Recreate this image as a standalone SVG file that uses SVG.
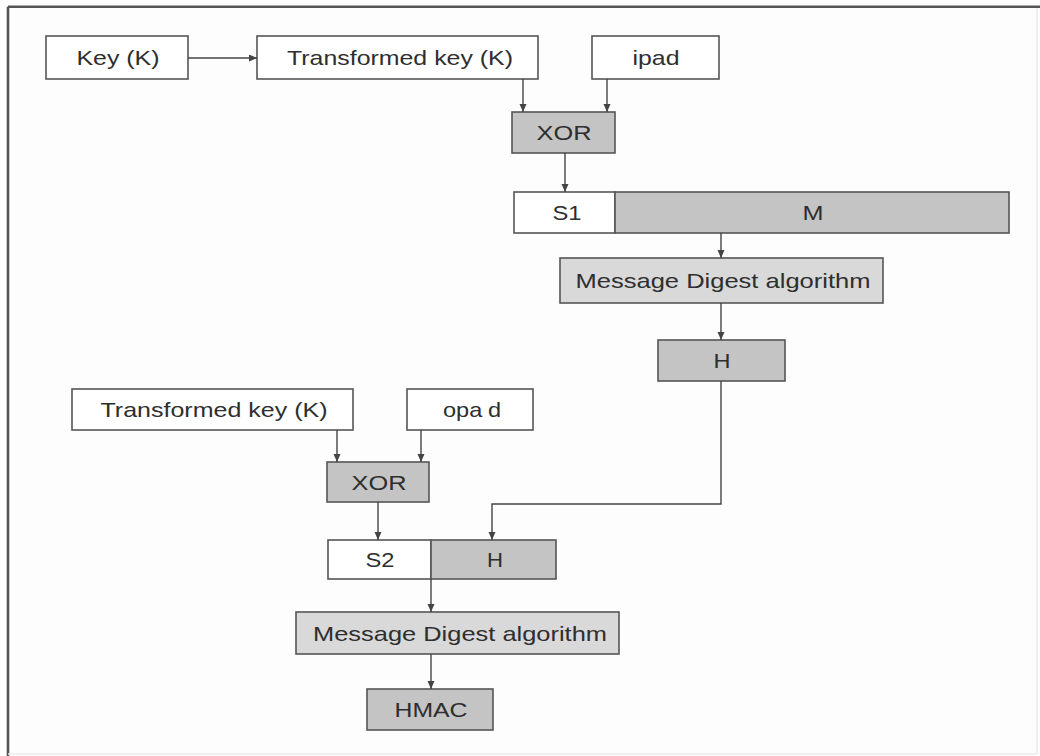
<svg xmlns="http://www.w3.org/2000/svg" width="1040" height="756" viewBox="0 0 1040 756">
  <style>
    .box { stroke: #555; stroke-width: 1.6; }
    .white { fill: #ffffff; }
    .dark { fill: #c4c4c4; }
    .light { fill: #d9d9d9; }
    .lbl { font-family: "Liberation Sans", Arial, sans-serif; font-size: 21px; fill: #2e2e2e; text-anchor: middle; }
    .wire { fill: none; stroke: #444; stroke-width: 1.4; }
  </style>
  <defs>
    <marker id="arrow" markerUnits="userSpaceOnUse" markerWidth="8" markerHeight="8" refX="8" refY="3.5" orient="auto">
      <path d="M0,0 L8,3.5 L0,7 z" fill="#444"/>
    </marker>
  </defs>

  <!-- page -->
  <rect x="0" y="0" width="1040" height="756" fill="#fdfdfd"/>
  <g id="frame">
    <line x1="8" y1="6.7" x2="1040" y2="6.7" stroke="#555" stroke-width="2.6"/>
    <line x1="8" y1="6.7" x2="8" y2="756" stroke="#555" stroke-width="2.6"/>
    <line x1="1037" y1="8" x2="1037" y2="754" stroke="#ebebeb" stroke-width="1.5"/>
    <line x1="8" y1="754" x2="1037" y2="754" stroke="#ebebeb" stroke-width="1.5"/>
  </g>

  <!-- inner hash -->
  <g id="key">
    <rect class="box white" x="46" y="36" width="142" height="43"/>
    <text class="lbl" x="118" y="64.5" textLength="83" lengthAdjust="spacingAndGlyphs">Key (K)</text>
  </g>
  <g id="tkey1">
    <rect class="box white" x="257" y="36" width="281" height="43"/>
    <text class="lbl" x="400" y="64.5" textLength="226" lengthAdjust="spacingAndGlyphs">Transformed key (K)</text>
  </g>
  <g id="ipad">
    <rect class="box white" x="592" y="36" width="127" height="43"/>
    <text class="lbl" x="656" y="64.5" textLength="47" lengthAdjust="spacingAndGlyphs">ipad</text>
  </g>
  <g id="xor1">
    <rect class="box dark" x="512" y="112" width="103" height="41"/>
    <text class="lbl" x="564" y="140" textLength="55" lengthAdjust="spacingAndGlyphs">XOR</text>
  </g>
  <g id="s1m">
    <rect class="box white" x="514" y="192" width="101" height="41"/>
    <rect class="box dark" x="615" y="192" width="394" height="41"/>
    <text class="lbl" x="567" y="220" textLength="29" lengthAdjust="spacingAndGlyphs">S1</text>
    <text class="lbl" x="813" y="220" textLength="21" lengthAdjust="spacingAndGlyphs">M</text>
  </g>
  <g id="mda1">
    <rect class="box light" x="560" y="258" width="323" height="45"/>
    <text class="lbl" x="723" y="288" textLength="295" lengthAdjust="spacingAndGlyphs">Message Digest algorithm</text>
  </g>
  <g id="h1">
    <rect class="box dark" x="658" y="340" width="127" height="41"/>
    <text class="lbl" x="722" y="368" textLength="17" lengthAdjust="spacingAndGlyphs">H</text>
  </g>

  <!-- outer hash -->
  <g id="tkey2">
    <rect class="box white" x="72" y="389" width="281" height="41"/>
    <text class="lbl" x="214" y="416.5" textLength="227" lengthAdjust="spacingAndGlyphs">Transformed key (K)</text>
  </g>
  <g id="opad">
    <rect class="box white" x="407" y="389" width="126" height="41"/>
    <text class="lbl" x="472" y="416.5" textLength="58" lengthAdjust="spacingAndGlyphs">opa<tspan dx="5">d</tspan></text>
  </g>
  <g id="xor2">
    <rect class="box dark" x="327" y="462" width="102" height="40"/>
    <text class="lbl" x="379" y="489.5" textLength="55" lengthAdjust="spacingAndGlyphs">XOR</text>
  </g>
  <g id="s2h">
    <rect class="box white" x="328" y="540" width="103" height="39"/>
    <rect class="box dark" x="431" y="540" width="125" height="39"/>
    <text class="lbl" x="380" y="567" textLength="29" lengthAdjust="spacingAndGlyphs">S2</text>
    <text class="lbl" x="495" y="567" textLength="16" lengthAdjust="spacingAndGlyphs">H</text>
  </g>
  <g id="mda2">
    <rect class="box light" x="296" y="612" width="323" height="42"/>
    <text class="lbl" x="460" y="640.5" textLength="294" lengthAdjust="spacingAndGlyphs">Message Digest algorithm</text>
  </g>
  <g id="hmac">
    <rect class="box dark" x="367" y="689" width="126" height="41"/>
    <text class="lbl" x="431" y="717" textLength="73" lengthAdjust="spacingAndGlyphs">HMAC</text>
  </g>

  <!-- connectors -->
  <g id="connectors">
    <line class="wire" x1="188" y1="58" x2="257" y2="58" marker-end="url(#arrow)"/>
    <line class="wire" x1="523" y1="79" x2="523" y2="112" marker-end="url(#arrow)"/>
    <line class="wire" x1="607" y1="79" x2="607" y2="112" marker-end="url(#arrow)"/>
    <line class="wire" x1="565" y1="153" x2="565" y2="192" marker-end="url(#arrow)"/>
    <line class="wire" x1="721" y1="233" x2="721" y2="258" marker-end="url(#arrow)"/>
    <line class="wire" x1="721" y1="303" x2="721" y2="340" marker-end="url(#arrow)"/>
    <polyline class="wire" points="721,381 721,504 492,504 492,540" marker-end="url(#arrow)"/>
    <line class="wire" x1="337" y1="430" x2="337" y2="462" marker-end="url(#arrow)"/>
    <line class="wire" x1="421" y1="430" x2="421" y2="462" marker-end="url(#arrow)"/>
    <line class="wire" x1="378" y1="502" x2="378" y2="540" marker-end="url(#arrow)"/>
    <line class="wire" x1="431" y1="579" x2="431" y2="612" marker-end="url(#arrow)"/>
    <line class="wire" x1="431" y1="654" x2="431" y2="689" marker-end="url(#arrow)"/>
  </g>
</svg>
